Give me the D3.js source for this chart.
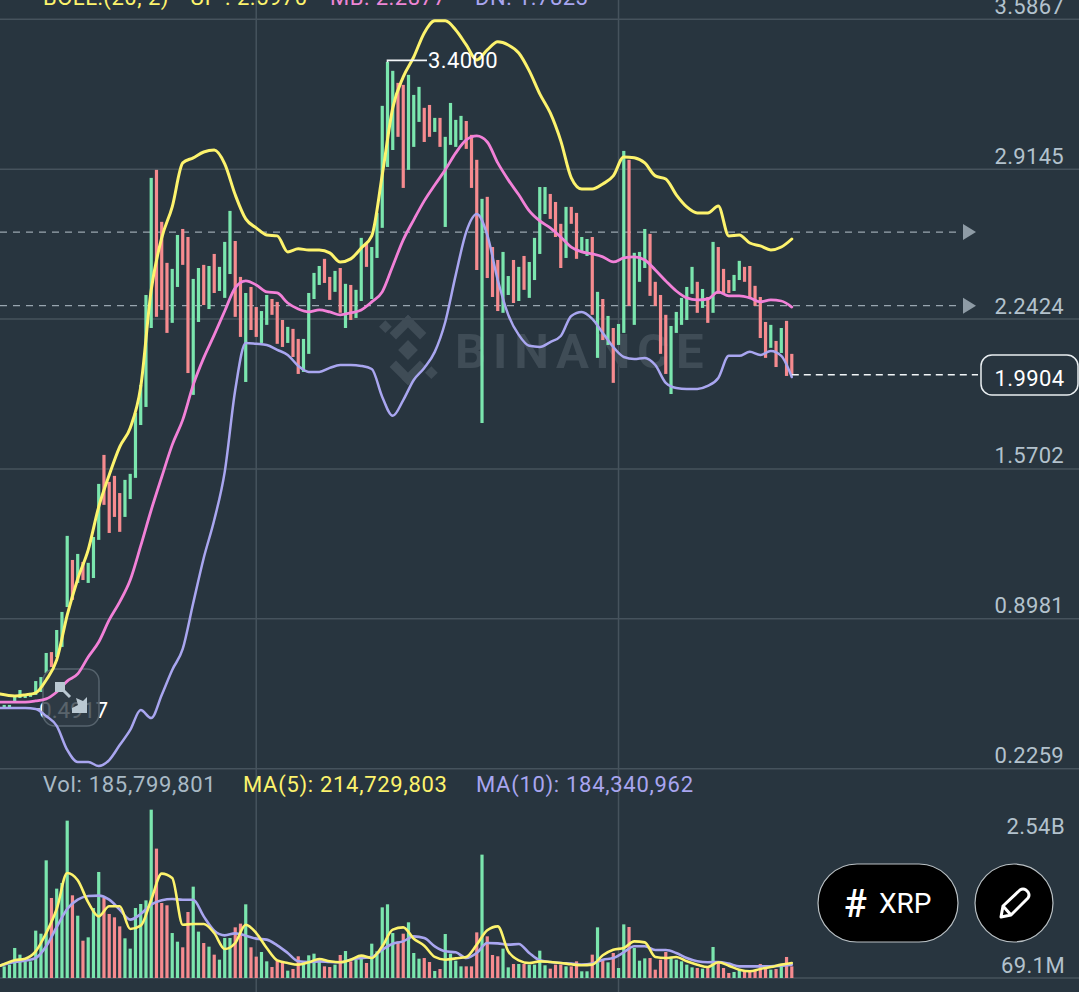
<!DOCTYPE html>
<html><head><meta charset="utf-8">
<script src="https://cdn.jsdelivr.net/npm/d3@7/dist/d3.min.js"></script>
<style>html,body{margin:0;padding:0;background:#28353f;overflow:hidden}svg{display:block}
text{font-family:Roboto,"Noto Sans",sans-serif}</style></head><body>
<svg id="c" width="1079" height="992"></svg>
<script>
// one letter per candle: g = up, r = down
const candleDir = ("gggggggggr"+"gggrgrgggr"+"rrrggggggr"+"rrggrrggrg"+"rgggrrgrrg"+"grrrgrrggg"+"grrgrgrggr"+"gggggrrggg"+"rrgrggggrr"+"rgrrrggrgr"+"ggggrrrgrr"+"ggrgrgrggr"+"gggrrrrggg"+"ggrgrgrrrg"+"grrrrrgrgrr").split("");
const candleHigh = [.510,.510,.546,.577,.555,.564,.617,.635,.743,.747,
.846,.927,1.268,1.160,1.187,1.151,1.147,1.263,1.501,1.631,
1.510,1.537,1.460,1.519,1.546,1.819,1.945,2.348,2.873,2.909,
2.676,2.492,2.465,2.617,2.644,2.608,2.420,2.469,2.483,2.478,
2.532,2.474,2.586,2.725,2.590,2.429,2.357,2.384,2.294,2.276,
2.348,2.330,2.317,2.236,2.205,2.196,2.151,2.151,2.357,2.447,
2.478,2.510,2.429,2.456,2.469,2.398,2.393,2.371,2.604,2.581,
2.563,2.716,3.196,3.393,3.353,3.299,3.290,3.335,3.245,3.281,
3.187,3.200,3.142,3.142,3.057,3.209,3.133,3.151,3.128,3.066,
2.954,2.779,2.788,2.563,2.505,2.541,2.433,2.505,2.474,2.523,
2.496,2.604,2.832,2.832,2.801,2.765,2.667,2.743,2.743,2.716,
2.608,2.599,2.608,2.362,2.330,2.254,2.200,2.218,2.994,2.954,
2.537,2.541,2.644,2.622,2.407,2.348,2.259,2.209,2.272,2.335,
2.384,2.474,2.407,2.375,2.339,2.586,2.563,2.465,2.415,2.438,
2.501,2.474,2.478,2.389,2.339,2.227,2.214,2.142,2.200,2.232,2.084];
const candleLow = [.496,.496,.519,.541,.541,.546,.555,.568,.653,.680,
.725,.770,.949,.981,1.057,1.070,1.057,1.079,1.250,1.407,
1.281,1.353,1.286,1.353,1.433,1.528,1.765,1.846,2.200,2.250,
2.281,2.178,2.223,2.384,2.483,1.998,1.900,2.227,2.303,2.285,
2.357,2.366,2.335,2.442,2.250,2.160,1.958,2.191,2.160,2.133,
2.214,2.259,2.129,2.115,2.133,2.070,1.994,2.003,2.084,2.330,
2.393,2.402,2.326,2.362,2.268,2.200,2.236,2.245,2.321,2.474,
2.330,2.514,2.649,2.922,2.998,3.057,2.828,2.909,3.012,3.124,
3.034,3.057,3.079,3.012,2.653,3.021,3.012,3.043,3.003,2.828,
2.460,1.774,2.424,2.339,2.276,2.268,2.348,2.312,2.321,2.371,
2.335,2.415,2.532,2.711,2.689,2.608,2.469,2.514,2.667,2.510,
2.541,2.523,2.259,2.066,2.146,2.124,1.954,2.124,2.178,2.299,
2.214,2.407,2.469,2.344,2.299,2.084,1.994,1.904,2.178,2.214,
2.236,2.353,2.268,2.290,2.223,2.268,2.353,2.357,2.357,2.366,
2.415,2.407,2.335,2.299,2.155,2.066,2.111,2.025,2.088,1.985,1.9904];
const volumes = [176,202,454,353,252,252,716,670,1779,1210,
1351,1436,2379,1250,942,564,615,1058,1603,1210,
968,917,781,600,444,1058,1119,1174,2545,1956,
1134,1099,680,549,464,998,1381,701,529,474,
353,277,605,605,766,822,1114,464,323,393,
252,166,262,242,111,136,328,252,343,368,
267,176,166,202,348,408,252,277,328,227,
519,403,1068,1114,680,554,
670,842,378,292,302,242,106,136,665,368,
262,176,176,176,690,1865,630,348,328,444,
161,212,212,212,202,202,413,192,141,202,
202,176,176,252,101,101,353,766,277,237,
378,151,811,771,454,262,297,302,126,277,
393,302,277,252,202,161,151,141,151,469,
252,151,76,91,126,101,101,111,212,176,
126,136,176,318,176];
// upper, middle, lower band and volume averages, read at every second candle
const bollUp = [.559,.550,.555,.564,.622,.712,.913,1.075,1.205,1.398,1.541,1.667,1.752,1.936,2.371,2.604,2.743,2.940,2.963,2.989,2.998,2.936,2.797,2.689,2.649,2.617,2.613,2.541,2.555,2.550,2.550,2.537,2.496,2.510,2.559,2.613,2.886,3.187,3.326,3.415,3.523,3.577,3.577,3.536,3.469,3.402,3.447,3.483,3.469,3.433,3.353,3.250,3.164,3.039,2.873,2.823,2.823,2.846,2.882,2.967,2.963,2.940,2.882,2.868,2.797,2.743,2.716,2.716,2.747,2.613,2.617,2.581,2.568,2.550,2.563,2.599];
const bollMb = [.523,.523,.523,.528,.537,.568,.617,.649,.725,.792,.891,.972,1.070,1.223,1.384,1.532,1.676,1.788,1.945,2.066,2.169,2.276,2.380,2.411,2.393,2.362,2.357,2.312,2.285,2.272,2.281,2.272,2.259,2.268,2.281,2.317,2.362,2.478,2.595,2.685,2.770,2.841,2.909,2.985,3.043,3.061,3.034,2.940,2.864,2.797,2.725,2.680,2.649,2.608,2.563,2.541,2.532,2.519,2.496,2.514,2.519,2.505,2.460,2.411,2.366,2.335,2.326,2.330,2.362,2.344,2.344,2.335,2.317,2.326,2.321,2.294];
const bollDn = [.496,.496,.496,.492,.460,.416,.308,.254,.254,.236,.263,.330,.398,.487,.451,.555,.667,.761,.967,1.169,1.339,1.555,1.922,2.133,2.129,2.124,2.102,2.079,2.030,2.003,2.003,2.021,2.034,2.034,2.030,2.016,1.891,1.806,1.877,1.967,2.021,2.093,2.227,2.438,2.631,2.711,2.617,2.415,2.259,2.169,2.120,2.115,2.137,2.164,2.254,2.272,2.241,2.178,2.115,2.070,2.061,2.066,2.034,1.954,1.931,1.927,1.927,1.940,1.976,2.075,2.075,2.093,2.079,2.097,2.075,1.980];
const volMa5 = [186,267,292,403,680,1043,1588,1477,1144,932,1084,1084,741,791,1184,1578,1512,806,816,816,680,438,529,806,680,454,267,227,202,237,287,252,237,277,338,302,479,731,766,595,489,318,277,297,318,504,721,781,403,267,227,252,242,227,207,192,202,343,428,454,554,539,318,302,318,252,202,166,237,186,126,101,136,166,202,227];
const volMa10 = [186,242,262,302,479,771,1043,1184,1240,1245,1184,1033,882,968,1109,1174,1194,1184,1184,932,716,645,675,640,595,580,494,378,252,242,252,242,237,277,302,318,428,519,554,630,605,479,403,388,302,378,529,524,504,514,378,267,242,227,217,202,217,277,302,388,479,479,423,423,378,302,252,237,242,217,176,176,176,176,186,202];
const priceTicks = [3.5867,2.9145,2.2424,1.5702,0.8981,0.2259];
const priceLines = [2.63,2.30];
const lastPrice = 1.9904, highPrice = 3.4000, lowPrice = 0.4917;
const volTickLabels = ["2.54B","69.1M"];
const headerText = [["BOLL:(20, 2)",43,"#fdf36d"],["UP : 2.5970",190,"#fdf36d"],["MB: 2.2877",330,"#ee86d6"],["DN: 1.7823",475,"#a9a6f0"]];
const volLegend = [["Vol: 185,799,801",43,"#a9bac6"],["MA(5): 214,729,803",243,"#fdf36d"],["MA(10): 184,340,962",476,"#a9a6f0"]];

const GREEN="#7be6ae", RED="#f68b8f", GRID="#46535d", LABEL="#b3c2cd";
const W=1079,H=992;
const svg=d3.select("#c");
const n=volumes.length;
const x=d3.scaleLinear().domain([0,n-1]).range([4.2,791.8]);
const y=d3.scaleLinear().domain([0.2259,3.5867]).range([768.3,18.7]);
const v=d3.scaleLinear().domain([0,2540]).range([978,810]);
const pick=i=>i?i*2:-0.8;

// verticals
svg.append("g").selectAll("line").data([48,117]).join("line")
 .attr("x1",d=>x(d)).attr("x2",d=>x(d)).attr("y1",0).attr("y2",H).attr("stroke",GRID).attr("stroke-width",1.5);
// price grid
const ax=d3.axisLeft(y).tickValues(priceTicks).tickSize(W).tickFormat(d3.format(".4f"));
const gAx=svg.append("g").attr("transform",`translate(${W},0)`).call(ax);
gAx.select(".domain").remove();
gAx.selectAll("line").attr("stroke",GRID).attr("stroke-width",1.5);
gAx.selectAll("text").attr("x",-15).attr("dy",-4.5).attr("y",-1).attr("text-anchor","end")
 .attr("fill",LABEL).style("font-size","22px").style("letter-spacing","0.3px").style("font-family","Roboto");
svg.append("line").attr("x1",0).attr("x2",W).attr("y1",v(0)).attr("y2",v(0)).attr("stroke",GRID).attr("stroke-width",1.5);

// watermark
const wm=svg.append("g").attr("fill","#3f4c56");
wm.append("text").attr("x",455).attr("y",368).text("BINANCE").style("font-size","49px").style("font-weight",700).style("letter-spacing","6.8px").style("font-family","Roboto");
const logo=wm.append("g").attr("transform","translate(408,350) rotate(45)");
[[-7,-7,14,14],[-25,-25,26,9],[-25,-25,9,26],[16,-1,9,26],[-1,16,26,9],[-37,-5,9,9],[28,-5,9,9]].forEach(r=>{
 logo.append("rect").attr("x",r[0]).attr("y",r[1]).attr("width",r[2]).attr("height",r[3]);
});

// dashed price lines
svg.append("g").selectAll("line").data(priceLines).join("line")
 .attr("x1",0).attr("x2",962).attr("y1",y).attr("y2",y)
 .attr("stroke","#99a6b0").attr("stroke-width",1.3).attr("stroke-dasharray","7 6");
svg.append("g").selectAll("path").data(priceLines).join("path")
 .attr("d",d=>`M963 ${y(d)-8}L976 ${y(d)}L963 ${y(d)+8}Z`).attr("fill","#8e9ba5");

// candles
svg.append("g").selectAll("rect").data(d3.range(n)).join("rect")
 .attr("x",i=>x(i)-1.6).attr("width",3.2)
 .attr("y",i=>y(candleHigh[i])).attr("height",i=>y(candleLow[i])-y(candleHigh[i]))
 .attr("fill",i=>candleDir[i]==="g"?GREEN:RED);
// volume bars
svg.append("g").selectAll("rect").data(d3.range(n)).join("rect")
 .attr("x",i=>x(i)-1.6).attr("width",3.2)
 .attr("y",i=>v(volumes[i])).attr("height",i=>v(0)-v(volumes[i]))
 .attr("fill",i=>candleDir[i]==="g"?GREEN:RED);

// low marker and overlay button (behind the indicator lines)
svg.append("line").attr("x1",x(6)).attr("x2",40).attr("y1",y(lowPrice)).attr("y2",y(lowPrice)).attr("stroke","#f3f6f8").attr("stroke-width",1.5);
svg.append("text").attr("x",39).attr("y",718).attr("fill","#fff").text(d3.format(".4f")(lowPrice)).style("font-size","22.5px").style("font-family","Roboto");
svg.append("rect").attr("x",43).attr("y",669).attr("width",56).attr("height",57).attr("rx",12)
 .attr("fill","#2f3c46").attr("fill-opacity",.8).attr("stroke","#56636d").attr("stroke-width",1.5);

// lines
const lineP=d3.line().x((d,i)=>x(pick(i))).y(d=>y(d)).curve(d3.curveMonotoneX);
const lineV=d3.line().x((d,i)=>x(pick(i))).y(d=>v(d)).curve(d3.curveMonotoneX);
const addLine=(gen,data,col,w)=>svg.append("path").attr("d",gen(data)).attr("fill","none").attr("stroke",col).attr("stroke-width",w).attr("stroke-linejoin","round").attr("stroke-linecap","round");
addLine(lineP,bollDn,"#a9a6f0",2.5);
addLine(lineP,bollMb,"#f281d8",2.8);
addLine(lineP,bollUp,"#fdf36d",3);
addLine(lineV,volMa10,"#a9a6f0",2.6);
addLine(lineV,volMa5,"#fdf36d",2.6);

// overlay icon
svg.append("rect").attr("x",55).attr("y",682).attr("width",10).attr("height",10).attr("fill","#bac8d2");
svg.append("line").attr("x1",64).attr("y1",691).attr("x2",70).attr("y2",697).attr("stroke","#bac8d2").attr("stroke-width",3);
svg.append("path").attr("d","M87 713V697L83 701L76 698L78 705L72 708L72 713Z").attr("fill","#bac8d2");

// last price
svg.append("line").attr("x1",x(n-1)).attr("x2",978).attr("y1",y(lastPrice)).attr("y2",y(lastPrice))
 .attr("stroke","#f1f5f7").attr("stroke-width",1.5).attr("stroke-dasharray","7 5");
svg.append("rect").attr("x",981).attr("y",355).attr("width",97).attr("height",40).attr("rx",11)
 .attr("fill","#28353f").attr("stroke","#e9eef1").attr("stroke-width",1.5);
svg.append("text").attr("x",1029.5).attr("y",386).attr("text-anchor","middle").attr("fill","#fff")
 .text(d3.format(".4f")(lastPrice)).style("font-size","22px").style("letter-spacing","0.4px").style("font-family","Roboto");

// high marker
svg.append("path").attr("d",`M${x(73)} ${y(highPrice)+2}V${y(highPrice)}H427`).attr("fill","none").attr("stroke","#f3f6f8").attr("stroke-width",1.6);
svg.append("text").attr("x",428).attr("y",y(highPrice)+8).attr("fill","#fff")
 .text(d3.format(".4f")(highPrice)).style("font-size","22px").style("letter-spacing","0.4px").style("font-family","Roboto");

// header
svg.append("g").selectAll("text").data(headerText).join("text")
 .attr("x",d=>d[1]).attr("y",5).attr("fill",d=>d[2]).text(d=>d[0]).style("font-size","22px").style("letter-spacing","0.5px");
svg.append("g").selectAll("text").data(volLegend).join("text")
 .attr("x",d=>d[1]).attr("y",792).attr("fill",d=>d[2]).text(d=>d[0]).style("font-size","22px").style("letter-spacing","0.7px");

// volume labels
svg.append("g").selectAll("text").data(volTickLabels).join("text")
 .attr("x",1065).attr("y",(d,i)=>i?973:834).attr("text-anchor","end").attr("fill",LABEL).text(d=>d).style("font-size","22px").style("letter-spacing","0.4px");

// buttons
svg.append("rect").attr("x",818).attr("y",864).attr("width",140).attr("height",78).attr("rx",39).attr("fill","#000").attr("stroke","#b9c0c4").attr("stroke-width",1.2);
svg.append("text").attr("x",844).attr("y",917).attr("fill","#fff").text("#").style("font-size","38px").style("font-weight",500);
svg.append("text").attr("x",879).attr("y",913).attr("fill","#fff").text("XRP").style("font-size","28px");
svg.append("circle").attr("cx",1014).attr("cy",903).attr("r",39).attr("fill","#000").attr("stroke","#b9c0c4").attr("stroke-width",1.2);
svg.append("path").attr("d","M1001 917L1003 906L1020 890Q1023 888 1026 890L1028 892Q1030 895 1028 898L1011 915Z M1003 906L1011 915")
 .attr("fill","none").attr("stroke","#fff").attr("stroke-width",3).attr("stroke-linejoin","round");
</script></body></html>
